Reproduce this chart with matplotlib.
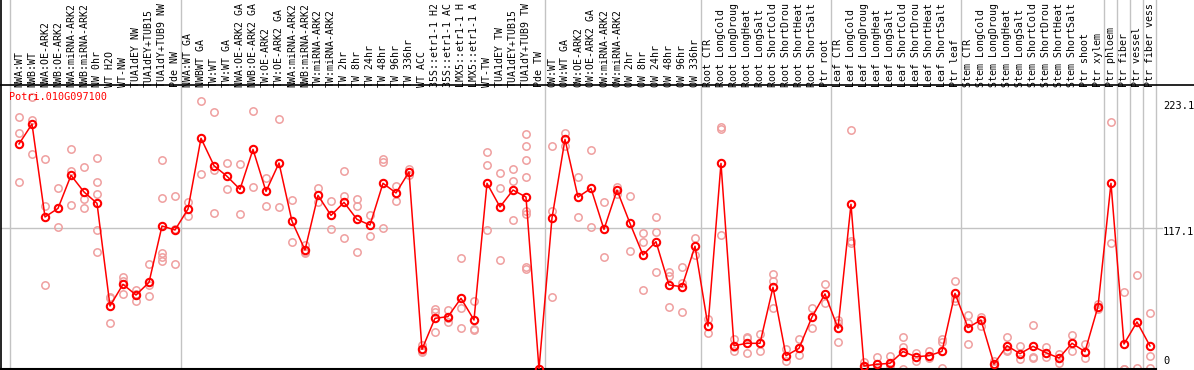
import matplotlib
matplotlib.use("Agg")
import matplotlib.pyplot as plt
from matplotlib.lines import Line2D
import matplotlib.transforms as mtransforms

# ---------------- data ----------------
gene_id = "Potri.010G097100"

sample_labels = [
    "NWA:WT", "NWB:WT", "NWA:OE-ARK2", "NWB:OE-ARK2", "NWA:miRNA-ARK2", "NWB:miRNA-ARK2",
    "NW 0hr", "WT H2O", "WT-NW", "TUA1dEY NW", "TUA1dEY+TUB15", "TUA1dY+TUB9 NW", "Pde NW",
    "NWA:WT GA", "NWBWT GA", "TW:WT", "TW:WT GA", "NWA:OE-ARK2 GA", "NWB:OE-ARK2 GA",
    "TW:OE-ARK2", "TW:OE-ARK2 GA", "NWA:miRNA-ARK2", "NWB:miRNA-ARK2", "TW:miRNA-ARK2",
    "TW:miRNA-ARK2", "TW 2hr", "TW 8hr", "TW 24hr", "TW 48hr", "TW 96hr", "TW 336hr",
    "WT ACC", "35S::etr1-1 H2", "35S::etr1-1 AC", "LMX5::etr1-1 H", "LMX5::etr1-1 A",
    "WT-TW", "TUA1dEY TW", "TUA1dEY+TUB15", "TUA1dY+TUB9 TW", "Pde TW",
    "OW:WT", "OW:WT GA", "OW:OE-ARK2", "OW:OE-ARK2 GA", "OW:miRNA-ARK2", "OW:miRNA-ARK2",
    "OW 2hr", "OW 8hr", "OW 24hr", "OW 48hr", "OW 96hr", "OW 336hr",
    "Root CTR", "Root LongCold", "Root LongDroug", "Root LongHeat", "Root LongSalt",
    "Root ShortCold", "Root ShortDrou", "Root ShortHeat", "Root ShortSalt", "Ptr root",
    "Leaf CTR", "Leaf LongCold", "Leaf LongDroug", "Leaf LongHeat", "Leaf LongSalt",
    "Leaf ShortCold", "Leaf ShortDrou", "Leaf ShortHeat", "Leaf ShortSalt", "Ptr leaf",
    "Stem CTR", "Stem LongCold", "Stem LongDroug", "Stem LongHeat", "Stem LongSalt",
    "Stem ShortCold", "Stem ShortDrou", "Stem ShortHeat", "Stem ShortSalt", "Ptr shoot",
    "Ptr xylem", "Ptr phloem", "Ptr fiber", "Ptr vessel", "Ptr fiber vess",
]

group_sizes = [13, 28, 12, 10, 10, 11, 1, 1, 1, 1]

mean_values = [
    186.5, 203.0, 126.0, 133.1, 160.5, 146.7, 137.3, 52.2, 70.2, 61.3, 71.8, 118.5, 115.2,
    132.6, 191.2, 168.5, 159.7, 148.9, 182.0, 147.2, 170.7, 122.4, 98.6, 143.9, 127.3,
    138.1, 124.0, 119.3, 153.9, 145.9, 163.3, 16.3, 42.0, 43.4, 58.6, 40.6, 153.9, 134.3,
    148.3, 142.5, 0.0,
    125.1, 190.3, 142.5, 149.7, 115.7, 148.3, 120.7, 94.5, 105.5, 69.6, 68.2, 101.7,
    35.6, 170.4, 19.3, 21.3, 21.3, 67.7, 11.0, 17.1, 43.1, 62.2,
    33.7, 136.5, 2.5, 3.9, 4.7, 14.4, 10.2, 11.0, 14.6, 62.7,
    34.3, 40.6, 4.1, 19.3, 12.7, 18.8, 13.5, 9.1, 21.3, 14.4, 51.7,
    153.9, 20.7, 39.0, 19.1,
]

replicate_values = [
    [208.6, 195.3, 154.7], [225.7, 206.3, 178.2], [173.8, 135.1, 69.6], [149.7, 133.1, 117.7],
    [182.0, 164.4, 135.6], [167.1, 140.6, 133.1], [174.6, 154.7, 145.0, 114.9, 96.7],
    [60.0, 58.6, 38.1], [76.0, 73.0, 61.9], [65.5, 61.8, 56.6], [86.7, 69.6, 60.5],
    [173.2, 141.4, 95.9, 93.1, 89.8], [143.1, 115.8, 86.7],
    [138.1, 127.1], [222.0, 161.5], [212.7, 164.9, 129.0], [170.4, 148.9], [169.9, 128.2],
    [213.5, 150.6], [158.0, 135.4], [206.9, 134.0], [139.8, 105.0], [102.8, 96.4, 96.7],
    [150.0, 138.1], [138.9, 115.7], [164.1, 143.4, 108.3], [140.9, 134.8, 96.7],
    [127.3, 110.2], [174.0, 171.3, 116.9], [151.7, 139.2], [165.7, 160.9],
    [19.9, 15.2, 13.8], [50.0, 47.5, 30.4], [48.9, 42.5, 38.7], [91.7, 50.3, 33.7],
    [56.4, 32.9, 32.3], [179.6, 168.8, 115.2], [162.2, 149.7, 90.1], [165.5, 155.8, 123.2],
    [194.8, 184.5, 172.9, 158.8, 131.2, 128.2, 84.8, 82.6], [0.0],
    [184.8, 130.9, 59.4], [195.3, 184.8], [159.4, 126.0], [181.2, 117.4], [138.1, 92.5],
    [151.1, 145.0], [143.1, 97.5], [112.4, 105.5, 65.2], [125.7, 113.3, 80.4],
    [80.7, 77.3, 51.1], [84.3, 71.0, 47.0], [108.3, 94.5],
    [41.2, 29.6], [200.8, 198.6, 110.8], [24.6, 18.5, 15.2], [26.8, 25.4, 13.0],
    [28.7, 14.9], [78.7, 73.2, 50.8], [16.3, 6.9], [24.6, 17.1, 11.6], [50.3, 33.7],
    [70.2, 54.4],
    [40.6, 38.4, 22.1], [197.8, 106.1, 104.1], [6.1, 1.4, 0.0], [9.7, 2.0, 0.0],
    [11.0, 3.1, 0.0], [26.2, 18.0, 0.0], [13.0, 6.9], [14.9, 8.8], [24.6, 22.1, 0.6],
    [72.9, 58.6, 56.6],
    [44.5, 38.0, 20.4], [43.4, 35.9], [6.9, 4.0, 1.4], [26.8, 16.0, 15.2], [19.1, 8.0],
    [36.2, 10.2, 9.4], [18.5, 10.2], [12.2, 5.2], [28.2, 14.9], [20.4, 9.4], [53.6, 49.5],
    [204.4, 104.1], [63.5, 0.0, 0.0], [77.9, 0.6], [46.1, 11.0, 0.6],
]

axis_ticks = [223.1, 117.1, 0]
axis_tick_labels = ["223.1", "117.1", "0"]

# ---------------- layout ----------------
W, H = 1194, 370
fig = plt.figure(figsize=(W / 100, H / 100), dpi=100)
fig.patch.set_facecolor("white")

ax_left_px, ax_right_px = 1.0, 1155.7
ax_top_px, ax_bot_px = 85.0, 369.0
ax = fig.add_axes([ax_left_px / W, 1 - ax_bot_px / H,
                   (ax_right_px - ax_left_px) / W, (ax_bot_px - ax_top_px) / H])

n = len(sample_labels)
xs = list(range(n))
ax.set_xlim(-1.385, 87.44)
ax.set_ylim(0, 235.35)

mono = "DejaVu Sans Mono"
gray = "#c3c3c3"
rep_color = "#ef9f9f"

# group separator lines (extend up through label area)
ax_h = ax_bot_px - ax_top_px
ext = ax_bot_px / ax_h
ax.axvline(-0.67, ymin=0, ymax=ext, clip_on=False, color=gray, lw=1.0, zorder=1)
cum = 0
for g in group_sizes:
    cum += g
    ax.axvline(cum - 0.56, ymin=0, ymax=ext, clip_on=False, color=gray, lw=1.0, zorder=1)

# horizontal grid at middle tick
ax.axhline(117.1, xmin=0, xmax=(1162 - ax_left_px) / (ax_right_px - ax_left_px),
           clip_on=False, color=gray, lw=1.0, zorder=1)

# replicates
for i, reps in enumerate(replicate_values):
    ax.plot([xs[i]] * len(reps), reps, linestyle="none", marker="o", ms=5.3,
            mfc="none", mec=rep_color, mew=1.1, zorder=2)

# mean line
ax.plot(xs, mean_values, color="red", lw=1.1, marker="o", ms=5.3,
        mfc="none", mec="red", mew=1.5, zorder=3)

# spines
for s in ["top", "right"]:
    ax.spines[s].set_visible(False)
ax.spines["left"].set_visible(False)
ax.spines["bottom"].set_color("black")
ax.spines["bottom"].set_linewidth(1.5)
ax.set_xticks([])
ax.set_yticks([])

# top black separator across the whole figure and left border
fig.add_artist(Line2D([0, 1], [1 - ax_top_px / H] * 2, transform=fig.transFigure,
                      color="black", lw=1.2))
fig.add_artist(Line2D([0.8 / W] * 2, [0, 1], transform=fig.transFigure,
                      color="black", lw=1.2))

# sample labels (rotated)
lab_tr = mtransforms.offset_copy(ax.get_xaxis_transform(), fig=fig, x=0, y=-1.4, units="points")
for i, lab in enumerate(sample_labels):
    ax.text(xs[i], 1.0, lab, rotation=90, ha="center", va="bottom",
            fontsize=7.1, family=mono, color="black", transform=lab_tr, clip_on=False)

# gene id
ax.text((9.3 - ax_left_px) / (ax_right_px - ax_left_px), (ax_bot_px - 96.7) / ax_h,
        gene_id, transform=ax.transAxes, ha="left", va="center",
        fontsize=7.3, family=mono, color="red")

# right axis labels
label_offsets_px = [-6.2, -4.8, 7.5]
xax = (1163 - ax_left_px) / (ax_right_px - ax_left_px)
for val, txt, off in zip(axis_ticks, axis_tick_labels, label_offsets_px):
    tr = mtransforms.offset_copy(ax.get_yaxis_transform(), fig=fig, x=0, y=off * 0.72,
                                 units="points")
    ax.text(xax, val, txt, transform=tr, ha="left", va="center",
            fontsize=7.5, family=mono, color="black", clip_on=False)

fig.savefig("out.png", dpi=100)
